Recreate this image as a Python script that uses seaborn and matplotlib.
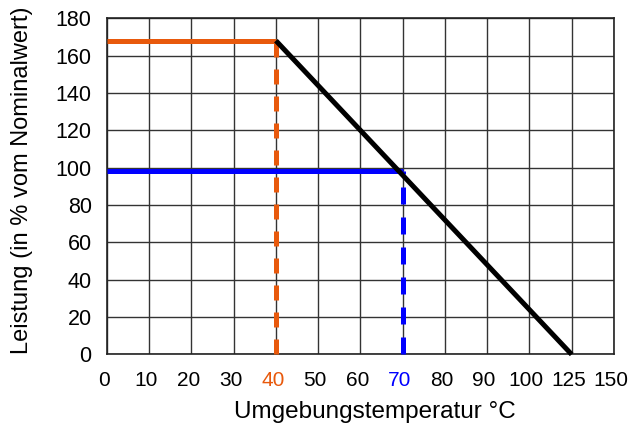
import matplotlib
matplotlib.use("Agg")
import matplotlib.pyplot as plt
import matplotlib.transforms as mtransforms
import seaborn as sns
import numpy as np
import pandas as pd

# ----- data -----
x_ticks = [0, 10, 20, 30, 40, 50, 60, 70, 80, 90, 100, 125, 150]
y_ticks = [0, 20, 40, 60, 80, 100, 120, 140, 160, 180]

orange_x = [0, 40]
orange_y = [168, 168]
orange_drop_x = [40, 40]
orange_drop_y = [0, 168]

blue_x = [0, 70]
blue_y = [98, 98]
blue_drop_x = [70, 70]
blue_drop_y = [0, 98]

derating_x = [40, 125]
derating_y = [168, 0]

ORANGE = "#E8590C"
BLUE = "#0000FF"

sns.set_theme(style="white")
plt.rcParams["font.family"] = ["Liberation Sans", "DejaVu Sans"]
plt.rcParams["lines.scale_dashes"] = False


def pos(xs):
    # the temperature axis is evenly spaced by tick, not linear in degrees
    return np.interp(xs, x_ticks, np.arange(len(x_ticks)))


fig = plt.figure(figsize=(6.29, 4.25), dpi=100)
ax = fig.add_axes([0.170, 0.166, 0.806, 0.791])
W, H = fig.get_size_inches() * fig.dpi

lw = 3.6

def line(xs, ys, color, dash_px=None, z=3):
    df = pd.DataFrame({"x": pos(xs), "y": ys})
    sns.lineplot(data=df, x="x", y="y", color=color, lw=lw, ax=ax,
                 sort=False, estimator=None, zorder=z)
    ln = ax.lines[-1]
    ln.set_solid_capstyle("butt")
    ln.set_clip_on(False)
    if dash_px:
        # dash pattern given in pixels -> points
        ln.set_linestyle((0, tuple(d * 0.72 for d in dash_px)))
        ln.set_dash_capstyle("butt")
    return ln

line(blue_x, blue_y, BLUE, z=3)
line(blue_drop_x, blue_drop_y, BLUE, dash_px=(17, 13), z=3)
line(orange_x, orange_y, ORANGE, z=4)
line(orange_drop_x, orange_drop_y, ORANGE, dash_px=(15, 12), z=4)
line(derating_x, derating_y, "black", z=5)

ax.set_xlim(0, len(x_ticks) - 1)
ax.set_ylim(0, 180)
ax.set_xticks(np.arange(len(x_ticks)))
ax.set_xticklabels([str(t) for t in x_ticks])
ax.set_yticks(y_ticks)
ax.set_yticklabels([str(t) for t in y_ticks])

ax.grid(True, color="#333333", lw=1.0)
ax.set_axisbelow(True)
for s in ax.spines.values():
    s.set_color("#222222")
    s.set_linewidth(1.2)

ax.tick_params(axis="both", length=0)
ax.tick_params(axis="y", labelsize=15.5, pad=11, colors="black")
ax.tick_params(axis="x", labelsize=15, pad=12, colors="black")
shift = mtransforms.ScaledTranslation(-3 / 100, 0, fig.dpi_scale_trans)
for lab in ax.get_xticklabels():
    lab.set_transform(lab.get_transform() + shift)
    if lab.get_text() == "40":
        lab.set_color(ORANGE)
    elif lab.get_text() == "70":
        lab.set_color(BLUE)

ax.set_xlabel("Umgebungstemperatur °C", fontsize=17.5, color="black")
ax.xaxis.set_label_coords(375 / W, 1 - 412 / H, transform=fig.transFigure)
ax.xaxis.label.set_va("center")
ax.set_ylabel("Leistung (in % vom Nominalwert)", fontsize=17, color="black")
ax.yaxis.set_label_coords(22 / W, 1 - 180 / H, transform=fig.transFigure)
ax.yaxis.label.set_va("center")

fig.savefig("out.png", dpi=100)
